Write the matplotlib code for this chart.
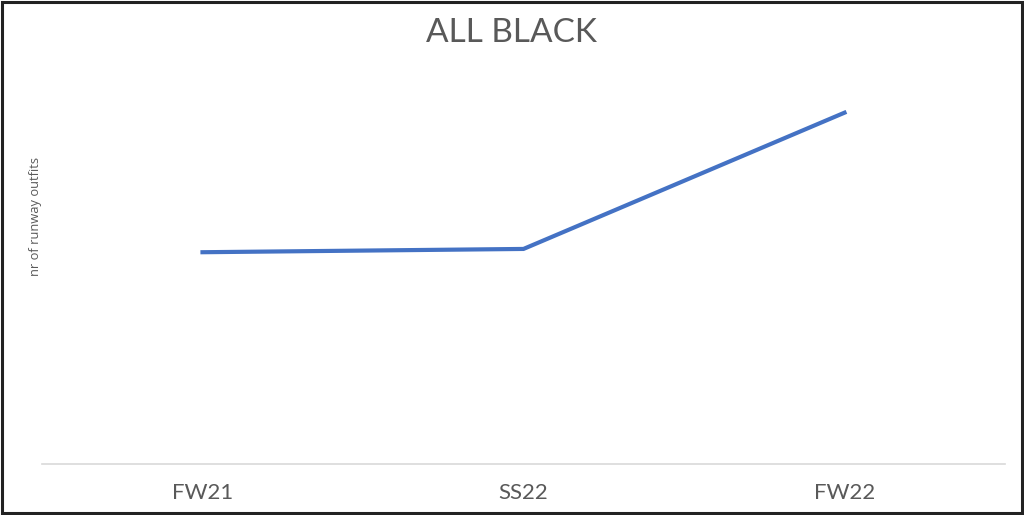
import matplotlib
matplotlib.use("Agg")
import matplotlib.pyplot as plt

seasons = ["FW21", "SS22", "FW22"]
outfits = [64.5, 65.5, 107]

fig = plt.figure(figsize=(10.24, 5.15), dpi=100)
ax = fig.add_axes([42 / 1024, 51 / 515, 963 / 1024, 394 / 515])

ax.plot(range(len(seasons)), outfits, color="#4472c4", linewidth=3, solid_joinstyle="miter")
ax.set_xlim(-0.5, len(seasons) - 0.5)
ax.set_ylim(0, 120)

ax.set_xticks(range(len(seasons)))
ax.set_xticklabels(seasons, fontsize=16, color="#595959", family="Lato")
ax.tick_params(axis="x", length=0, pad=14)
ax.set_yticks([])
for side in ["top", "right", "left"]:
    ax.spines[side].set_visible(False)
ax.spines["bottom"].set_color("#d9d9d9")
ax.spines["bottom"].set_linewidth(1.2)

fig.text(0.5, 0.936, "ALL BLACK", ha="center", va="center", fontsize=24,
         color="#595959", family="Lato")
fig.text(36 / 1024, 0.58, "nr of runway outfits", rotation=90, ha="center", va="center",
         fontsize=9.3, color="#595959", family="Open Sans")

# border round the whole picture
fig.patches.append(plt.Rectangle((0.0015, 0.003), 0.997, 0.994, transform=fig.transFigure,
                                 fill=False, edgecolor="#222222", linewidth=2.2))

fig.savefig("out.png", dpi=100)
